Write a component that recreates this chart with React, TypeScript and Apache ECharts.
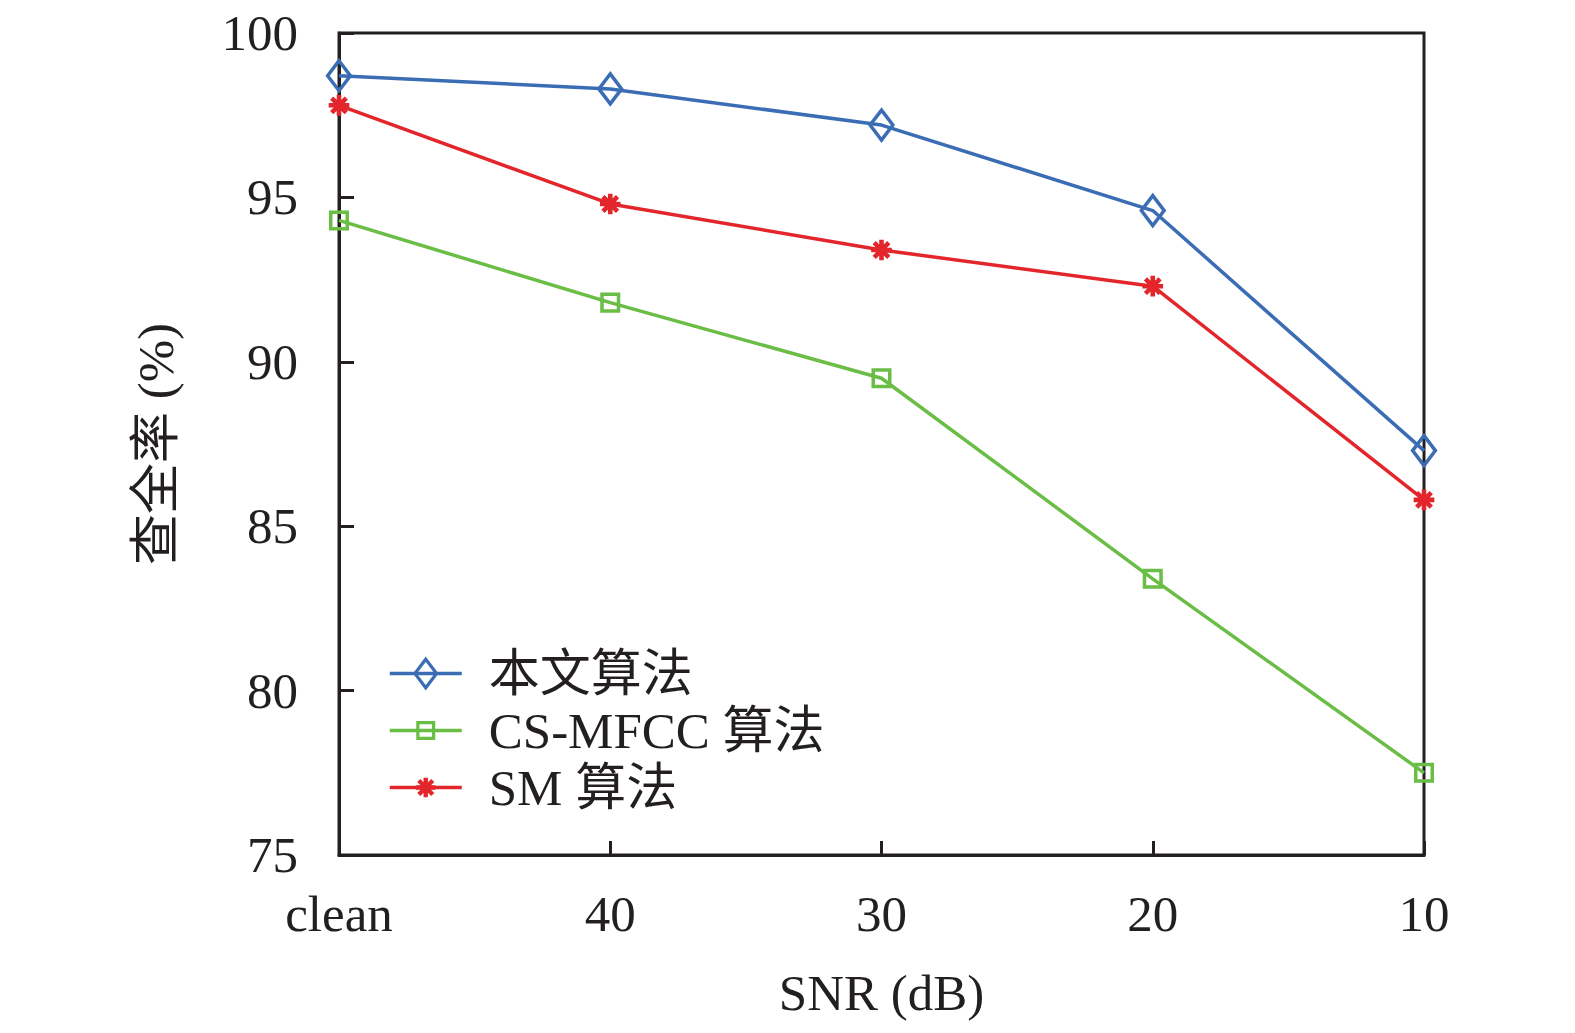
import React, { useEffect, useRef } from "react";
import * as echarts from "echarts";

const categories = ["clean", "40", "30", "20", "10"];
const seriesNames = ["本文算法", "CS-MFCC 算法", "SM 算法"];
const oursValues = [98.7, 98.3, 97.2, 94.6, 87.3];
const csmfccValues = [94.3, 91.8, 89.5, 83.4, 77.5];
const smValues = [97.8, 94.8, 93.4, 92.3, 85.8];

const BLUE = "#3b6db4";
const GREEN = "#6abd45";
const RED = "#e3262b";
const INK = "#231f20";
const FONT = "'Liberation Serif', 'Times New Roman', 'Noto Sans CJK SC', serif";

// Symbols are drawn inside a fixed 30x30 box (corner moveTo points fix the bounds)
const BOX = "M-15 -15 M15 15 ";
const diamondPath = "path://" + BOX + "M0 -14.5 L11 0 L0 14.5 L-11 0 Z";
const squarePath = "path://" + BOX + "M-8 -8 L8 -8 L8 8 L-8 8 Z";

function asteriskPath(): string {
  const L = 10;
  const w = 2.2;
  const parts: string[] = [];
  [0, 45, 90, 135].forEach((deg) => {
    const t = (deg * Math.PI) / 180;
    const c = Math.cos(t);
    const s = Math.sin(t);
    const pts = [
      [-L, -w],
      [L, -w],
      [L, w],
      [-L, w],
    ].map(([x, y]) => [x * c - y * s, x * s + y * c]);
    parts.push(
      "M" + pts.map((p) => p[0].toFixed(3) + " " + p[1].toFixed(3)).join(" L") + " Z"
    );
  });
  return "path://" + BOX + parts.join(" ");
}

export default function App() {
  const ref = useRef<HTMLDivElement>(null);
  useEffect(() => {
    if (!ref.current) return;
    const chart = echarts.init(ref.current, null, { renderer: "svg" });
    chart.setOption({
      animation: false,
      backgroundColor: "#ffffff",
      grid: {
        left: 339,
        right: 151,
        top: 33,
        bottom: 178,
        show: true,
        borderColor: INK,
        borderWidth: 3,
        backgroundColor: "transparent",
      },
      legend: {
        orient: "vertical",
        left: 383,
        top: 640,
        padding: 5,
        itemWidth: 72,
        itemHeight: 37,
        itemGap: 0,
        lineStyle: { width: 3.5 },
        data: [
          { name: seriesNames[0], itemStyle: { borderWidth: 3.2 } },
          { name: seriesNames[1], itemStyle: { borderWidth: 3.2 } },
          { name: seriesNames[2], itemStyle: { borderWidth: 0 } },
        ],
        textStyle: {
          fontFamily: FONT,
          fontSize: 51,
          color: INK,
          lineHeight: 57,
          padding: [0, 0, 0, 22],
        },
      },
      xAxis: {
        type: "category",
        data: categories,
        boundaryGap: false,
        name: "SNR (dB)",
        nameLocation: "middle",
        nameGap: 112,
        nameTextStyle: { fontFamily: FONT, fontSize: 51, color: INK },
        axisLine: { lineStyle: { color: INK, width: 3 } },
        axisTick: { inside: true, length: 14, lineStyle: { color: INK, width: 3 } },
        axisLabel: { fontFamily: FONT, fontSize: 51, color: INK, margin: 33 },
        splitLine: { show: false },
      },
      yAxis: {
        type: "value",
        min: 75,
        max: 100,
        interval: 5,
        name: "查全率 (%)",
        nameLocation: "middle",
        nameRotate: 90,
        nameGap: 158,
        nameTextStyle: { fontFamily: FONT, fontSize: 51, color: INK },
        axisLine: { show: true, lineStyle: { color: INK, width: 3 } },
        axisTick: { show: true, inside: true, length: 15, lineStyle: { color: INK, width: 3 } },
        axisLabel: { fontFamily: FONT, fontSize: 51, color: INK, margin: 41 },
        splitLine: { show: false },
      },
      series: [
        {
          name: seriesNames[0],
          type: "line",
          data: oursValues,
          symbol: diamondPath,
          symbolSize: 31,
          lineStyle: { color: BLUE, width: 3.5 },
          itemStyle: { color: "rgba(255,255,255,0)", borderColor: BLUE, borderWidth: 3.5 },
          z: 3,
        },
        {
          name: seriesNames[1],
          type: "line",
          data: csmfccValues,
          symbol: squarePath,
          symbolSize: 31,
          lineStyle: { color: GREEN, width: 3.5 },
          itemStyle: { color: "rgba(255,255,255,0)", borderColor: GREEN, borderWidth: 3.5 },
          z: 2,
        },
        {
          name: seriesNames[2],
          type: "line",
          data: smValues,
          symbol: asteriskPath(),
          symbolSize: 31,
          lineStyle: { color: RED, width: 3.5 },
          itemStyle: { color: RED, borderWidth: 0 },
          z: 4,
        },
      ],
    });
    return () => chart.dispose();
  }, []);
  return (
    <div
      ref={ref}
      style={{ position: "fixed", left: 0, top: 0, width: 1575, height: 1033, background: "#fff" }}
    />
  );
}
